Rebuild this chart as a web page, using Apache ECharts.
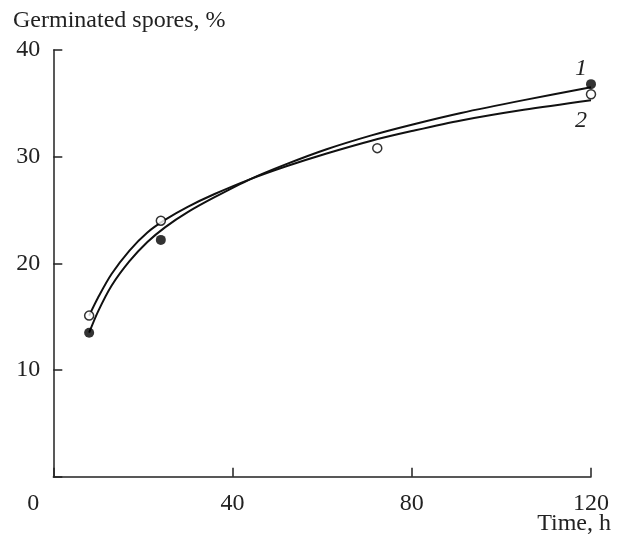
<!DOCTYPE html>
<html>
<head>
<meta charset="utf-8">
<script src="https://cdn.jsdelivr.net/npm/echarts@6/dist/echarts.min.js"></script>
<style>
html,body{margin:0;padding:0;background:#fff;}
#chart{width:619px;height:542px;}
</style>
</head>
<body>
<div id="chart"></div>
<script>
// Fitted curve 1 (filled circles)
const curve1 = [[8,13.5],[10,15.5],[13,17.9],[17,20.2],[21,22.0],[25,23.4],[30,24.8],[36,26.2],[44,27.9],[52,29.3],[61,30.7],[71,32.0],[80,33.0],[91,34.1],[105,35.3],[120,36.5]];
// Fitted curve 2 (open circles)
const curve2 = [[8,15.1],[10,16.8],[13,19.0],[17,21.2],[21,22.9],[25,24.1],[30,25.3],[36,26.5],[44,27.9],[52,29.1],[61,30.3],[71,31.5],[80,32.4],[91,33.4],[105,34.4],[120,35.3]];
// Measured points
const points1 = [[8,13.5],[24,22.2],[120,36.8]];
const points2 = [[8,15.1],[24,24.0],[72.3,30.8],[120,35.85]];
const curveLabels = ['1','2'];
const yTitle = 'Germinated spores, %';
const xTitle = 'Time, h';

const FONT = "'Liberation Serif','Times New Roman',serif";
const FS = 24;
const chart = echarts.init(document.getElementById('chart'), null, {renderer:'canvas'});
chart.setOption({
  backgroundColor:'#fff',
  animation:false,
  title:[
    {text:yTitle, left:13, top:9, padding:0, textStyle:{fontFamily:FONT, fontSize:FS, fontWeight:'normal', color:'#222'}},
    {text:xTitle, right:8, top:512, padding:0, textStyle:{fontFamily:FONT, fontSize:FS, fontWeight:'normal', color:'#222'}}
  ],
  grid:{left:53.3, right:28, top:50, bottom:65.3, containLabel:false},
  xAxis:{
    type:'value', min:0, max:120, interval:40,
    axisLine:{show:true, onZero:false, lineStyle:{color:'#222', width:1.5}},
    axisTick:{show:true, inside:true, length:9, lineStyle:{color:'#222', width:1.5}},
    splitLine:{show:false},
    axisLabel:{
      show:true, margin:15, color:'#222', fontFamily:FONT, fontSize:FS,
      showMinLabel:true, showMaxLabel:true,
      formatter:function(v){ return v===0 ? '{z|0}' : String(v); },
      rich:{z:{fontFamily:FONT, fontSize:FS, color:'#222', padding:[0,40,0,0]}}
    }
  },
  yAxis:{
    type:'value', min:0, max:40, interval:10,
    axisLine:{show:true, onZero:false, lineStyle:{color:'#222', width:1.5}},
    axisTick:{show:true, inside:true, length:9, lineStyle:{color:'#222', width:1.5}},
    splitLine:{show:false},
    axisLabel:{
      show:true, margin:13, color:'#222', fontFamily:FONT, fontSize:FS,
      formatter:function(v){ return v===0 ? '' : String(v); }
    }
  },
  series:[
    {type:'line', data:curve1, smooth:0.3, symbol:'none', z:2,
     lineStyle:{color:'#111', width:2},
     endLabel:{show:true, formatter:curveLabels[0], fontFamily:FONT, fontSize:FS, fontStyle:'italic', color:'#222', offset:[-24,-19]}},
    {type:'line', data:curve2, smooth:0.3, symbol:'none', z:2,
     lineStyle:{color:'#111', width:2},
     endLabel:{show:true, formatter:curveLabels[1], fontFamily:FONT, fontSize:FS, fontStyle:'italic', color:'#222', offset:[-24,21]}},
    {type:'scatter', data:points1, symbol:'circle', symbolSize:10, z:3,
     itemStyle:{color:'#000', borderColor:'#000', borderWidth:0}},
    {type:'scatter', data:points2, symbol:'circle', symbolSize:9, z:3,
     itemStyle:{color:'#fff', borderColor:'#000', borderWidth:1.5}}
  ]
});
</script>
</body>
</html>
